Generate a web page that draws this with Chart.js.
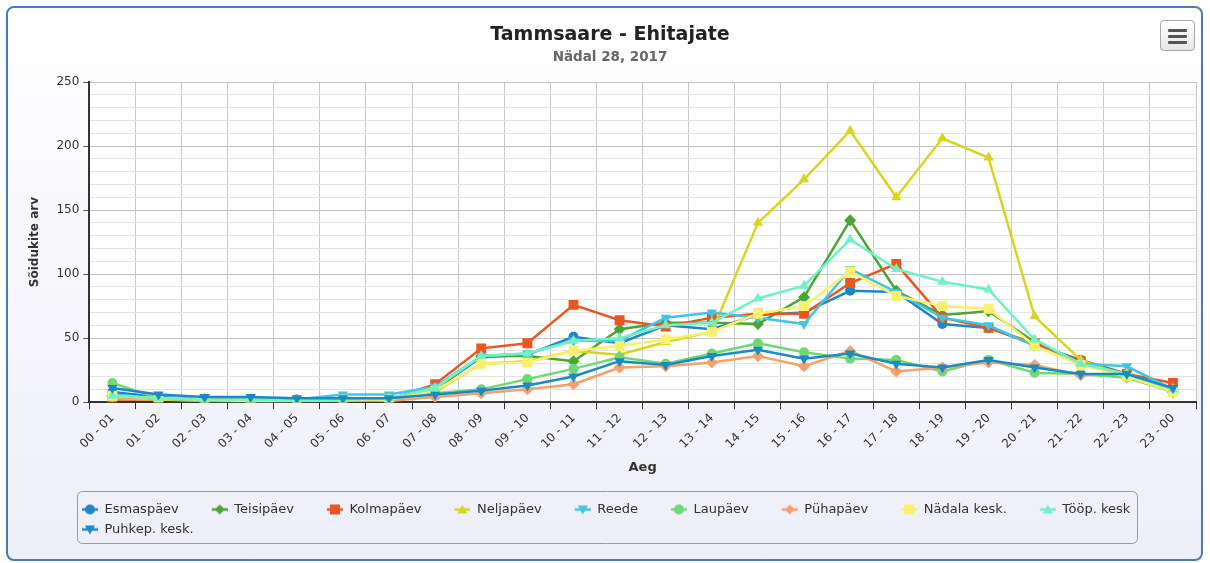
<!DOCTYPE html>
<html>
<head>
<meta charset="utf-8">
<script src="https://cdn.jsdelivr.net/npm/chart.js@4.4.0/dist/chart.umd.min.js"></script>
<style>
  body { margin: 0; width: 1210px; height: 563px; overflow: hidden; background: #fff; font-family: "DejaVu Sans", sans-serif; }
  #frame { position: absolute; left: 6px; top: 6px; width: 1193px; height: 551px; border: 2px solid #4d7ab6; border-radius: 8px;
           background: linear-gradient(#ffffff, #eeeef8); }
  #box { position: absolute; left: 0; top: 0; width: 1210px; height: 563px; }
  #menu { position: absolute; left: 1160px; top: 20px; width: 35px; height: 31px; box-sizing: border-box;
          border: 1px solid #a8a8a8; border-radius: 4px; background: linear-gradient(#ffffff, #e6e6e6); }
  #menu span { position: absolute; left: 7px; width: 19px; height: 3px; background: #555; border-radius: 1px; }
</style>
</head>
<body>
<div id="frame"></div>
<div id="box"><canvas id="trafficChart"></canvas></div>
<div id="menu"><span style="top:8px"></span><span style="top:14px"></span><span style="top:20px"></span></div>
<script>
const hours = ['00 - 01', '01 - 02', '02 - 03', '03 - 04', '04 - 05', '05 - 06', '06 - 07', '07 - 08',
    '08 - 09', '09 - 10', '10 - 11', '11 - 12', '12 - 13', '13 - 14', '14 - 15', '15 - 16',
    '16 - 17', '17 - 18', '18 - 19', '19 - 20', '20 - 21', '21 - 22', '22 - 23', '23 - 00'];

const esmaspaev  = [8, 4, 2, 2, 2, 2, 3, 10, 35, 37, 51, 46, 60, 57, 68, 70, 87, 86, 61, 58, 45, 33, 22, 10];
const teisipaev  = [5, 3, 2, 2, 1, 1, 2, 10, 36, 36, 32, 57, 62, 62, 61, 82, 142, 87, 68, 71, 47, 30, 20, 8];
const kolmapaev  = [2, 2, 2, 1, 1, 1, 2, 14, 42, 46, 76, 64, 59, 66, 69, 69, 93, 108, 66, 58, 46, 32, 22, 15];
const neljapaev  = [3, 2, 1, 1, 1, 1, 2, 8, 30, 32, 40, 37, 47, 55, 140, 174, 212, 160, 206, 191, 67, 33, 20, 8];
const reede      = [6, 3, 2, 2, 2, 6, 6, 12, 36, 38, 48, 48, 66, 70, 66, 61, 104, 86, 66, 60, 44, 30, 28, 10];
const laupaev    = [15, 3, 1, 0, 1, 2, 3, 7, 10, 18, 26, 35, 30, 38, 46, 39, 34, 33, 24, 33, 23, 22, 19, 8];
const puhapaev   = [4, 3, 2, 2, 2, 2, 1, 4, 7, 10, 14, 27, 28, 31, 36, 28, 40, 24, 27, 31, 29, 21, 22, 10];
const nadalaKesk = [5, 3, 2, 1, 1, 2, 2, 9, 30, 31, 40, 44, 49, 55, 69, 75, 102, 83, 75, 73, 44, 29, 20, 8];
const toopKesk   = [5, 3, 2, 2, 1, 2, 3, 11, 36, 38, 48, 50, 60, 62, 81, 91, 127, 104, 94, 88, 49, 30, 22, 10];
const puhkepKesk = [11, 6, 4, 4, 3, 3, 3, 6, 9, 13, 20, 32, 29, 36, 41, 34, 38, 30, 27, 33, 27, 22, 22, 11];

const seriesNames = ['Esmaspäev', 'Teisipäev', 'Kolmapäev', 'Neljapäev', 'Reede', 'Laupäev', 'Pühapäev',
    'Nädala kesk.', 'Tööp. kesk', 'Puhkep. kesk.'];
const seriesData = [esmaspaev, teisipaev, kolmapaev, neljapaev, reede, laupaev, puhapaev, nadalaKesk, toopKesk, puhkepKesk];
const seriesColors = ['#1f86c6', '#4aa534', '#e8581e', '#d6d61e', '#3fc6e6', '#6ed873', '#f7a06a', '#faf06e', '#72f0c6', '#1a8ac4'];
const seriesMarkers = ['circle', 'diamond', 'square', 'triangle', 'triangle-down',
    'circle', 'diamond', 'square', 'triangle', 'triangle-down'];

function markerStyle(m) {
    if (m === 'circle') return { pointStyle: 'circle', pointRadius: 5, pointRotation: 0 };
    if (m === 'diamond') return { pointStyle: 'rectRot', pointRadius: 6, pointRotation: 0 };
    if (m === 'square') return { pointStyle: 'rect', pointRadius: 7, pointRotation: 0 };
    if (m === 'triangle') return { pointStyle: 'triangle', pointRadius: 6, pointRotation: 0 };
    return { pointStyle: 'triangle', pointRadius: 6, pointRotation: 180 };
}

// line + marker icon for the legend, empty space on the left works as the item gap
function legendIcon(color, m) {
    const c = document.createElement('canvas');
    c.width = 42;
    c.height = 14;
    const g = c.getContext('2d');
    g.strokeStyle = color;
    g.fillStyle = color;
    g.lineWidth = 2.5;
    g.beginPath();
    g.moveTo(26, 7);
    g.lineTo(42, 7);
    g.stroke();
    const x = 34, y = 7;
    g.beginPath();
    if (m === 'circle') {
        g.arc(x, y, 5, 0, Math.PI * 2);
    } else if (m === 'diamond') {
        g.moveTo(x, y - 5); g.lineTo(x + 5, y); g.lineTo(x, y + 5); g.lineTo(x - 5, y);
    } else if (m === 'square') {
        g.rect(x - 5, y - 5, 10, 10);
    } else if (m === 'triangle') {
        g.moveTo(x, y - 5); g.lineTo(x + 5, y + 4); g.lineTo(x - 5, y + 4);
    } else {
        g.moveTo(x, y + 5); g.lineTo(x + 5, y - 4); g.lineTo(x - 5, y - 4);
    }
    g.closePath();
    g.fill();
    return c;
}

const icons = seriesColors.map((c, i) => legendIcon(c, seriesMarkers[i]));

const datasets = seriesNames.map((name, i) => Object.assign({
    label: name,
    data: seriesData[i],
    borderColor: seriesColors[i],
    backgroundColor: seriesColors[i],
    pointBackgroundColor: seriesColors[i],
    pointBorderWidth: 0,
    borderWidth: 2.5,
    tension: 0,
    order: -i
}, markerStyle(seriesMarkers[i])));

const plotBackground = {
    id: 'plotBackground',
    beforeDraw(chart) {
        const { ctx, chartArea } = chart;
        ctx.save();
        ctx.fillStyle = '#ffffff';
        ctx.fillRect(chartArea.left, chartArea.top, chartArea.width, chartArea.height);
        ctx.restore();
    }
};

const legendFrame = {
    id: 'legendFrame',
    afterLayout(chart) {
        const lg = chart.legend;
        lg.left = 49;
        lg.top = 496;
        lg.bottom = lg.top + lg.height + 10;
    },
    afterDraw(chart) {
        const ctx = chart.ctx;
        ctx.save();
        ctx.strokeStyle = '#9a9a9a';
        ctx.lineWidth = 1;
        ctx.beginPath();
        ctx.roundRect(77.5, 491.5, 1060, 52, 5);
        ctx.stroke();
        ctx.restore();
    }
};

Chart.defaults.font.family = '"DejaVu Sans", sans-serif';
Chart.defaults.color = '#333';

new Chart(document.getElementById('trafficChart'), {
    type: 'line',
    data: { labels: hours, datasets: datasets },
    options: {
        responsive: true,
        maintainAspectRatio: false,
        animation: false,
        layout: { padding: { left: 24, right: 14, top: 0, bottom: 34 } },
        scales: {
            x: {
                offset: true,
                grid: { offset: true, color: '#c8c8c8', tickColor: '#333', tickLength: 7 },
                border: { color: '#333', width: 2 },
                ticks: { autoSkip: false, maxRotation: 45, minRotation: 45, color: '#333', font: { size: 12 }, padding: 2 },
                title: { display: true, text: 'Aeg', color: '#333', font: { size: 13, weight: 'bold' }, padding: { top: 6, bottom: 4 } }
            },
            y: {
                min: 0,
                max: 250,
                grid: {
                    color: c => c.tick.value % 50 === 0 ? '#c4c4c4' : '#e4e4e4',
                    tickColor: c => c.tick.value % 50 === 0 ? '#555' : 'rgba(0,0,0,0)',
                    tickLength: 6
                },
                border: { color: '#333', width: 2 },
                ticks: {
                    stepSize: 10,
                    maxTicksLimit: 30,
                    autoSkip: false,
                    callback: v => v % 50 === 0 ? v : '',
                    color: '#333',
                    font: { size: 12 },
                    padding: 4
                },
                title: { display: true, text: 'Sõidukite arv', color: '#333', font: { size: 12, weight: 'bold' }, padding: { top: 4, bottom: 10 } }
            }
        },
        plugins: {
            title: {
                display: true,
                text: 'Tammsaare - Ehitajate',
                color: '#222',
                font: { size: 19, weight: 'bold' },
                padding: { top: 24, bottom: 3 }
            },
            subtitle: {
                display: true,
                text: 'Nädal 28, 2017',
                color: '#666',
                font: { size: 13.5, weight: 'bold' },
                padding: { top: 0, bottom: 16 }
            },
            legend: {
                position: 'bottom',
                align: 'start',
                labels: {
                    usePointStyle: true,
                    pointStyleWidth: 42,
                    padding: 7,
                    color: '#333',
                    font: { size: 13 },
                    generateLabels: chart => chart.data.datasets.map((ds, i) => ({
                        text: ds.label,
                        datasetIndex: i,
                        pointStyle: icons[i],
                        rotation: 0,
                        fillStyle: ds.borderColor,
                        strokeStyle: ds.borderColor,
                        lineWidth: 0,
                        fontColor: '#333',
                        hidden: !chart.isDatasetVisible(i)
                    }))
                }
            },
            tooltip: { enabled: false }
        }
    },
    plugins: [plotBackground, legendFrame]
});
</script>
</body>
</html>
